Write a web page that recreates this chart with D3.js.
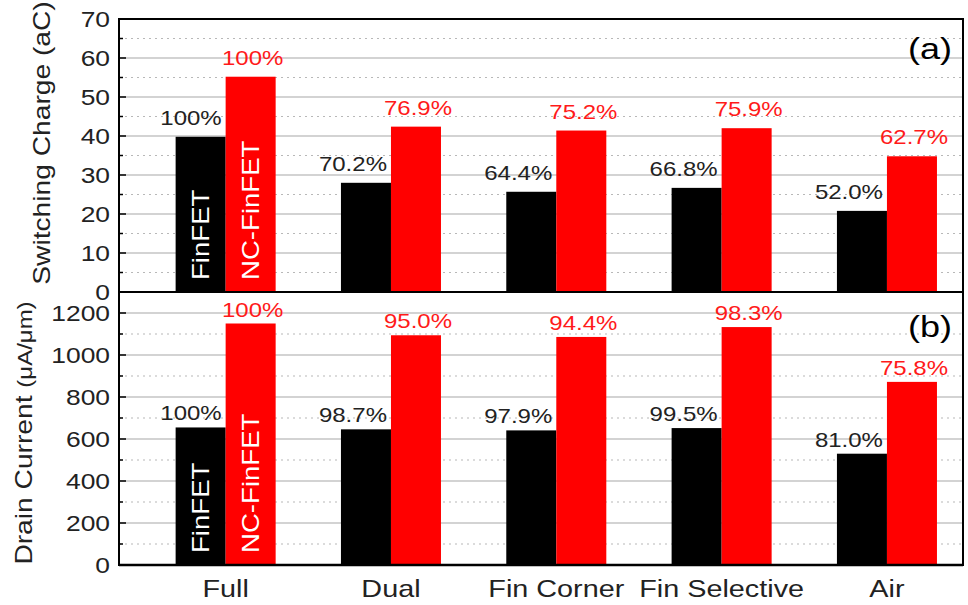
<!DOCTYPE html>
<html><head><meta charset="utf-8">
<script src="https://cdn.jsdelivr.net/npm/d3@7"></script>
<style>body{margin:0;background:#fff}svg{display:block}text{font-family:"Liberation Sans",Arial,sans-serif}</style>
</head><body><svg id="c" width="968" height="605"></svg>
<script>
const categories = ["Full","Dual","Fin Corner","Fin Selective","Air"];
const chargeFinFET = [39.8, 28.0, 25.7, 26.7, 20.8];
const chargeNC = [55.2, 42.4, 41.4, 42.0, 34.8];
const chargeFinFETLabels = ["100%","70.2%","64.4%","66.8%","52.0%"];
const chargeNCLabels = ["100%","76.9%","75.2%","75.9%","62.7%"];
const currentFinFET = [655, 646, 641, 652, 530];
const currentNC = [1150, 1094, 1086, 1133, 872];
const currentFinFETLabels = ["100%","98.7%","97.9%","99.5%","81.0%"];
const currentNCLabels = ["100%","95.0%","94.4%","98.3%","75.8%"];
const chargeTicks = [0,10,20,30,40,50,60,70];
const chargeMinor = [5,15,25,35,45,55,65];
const currentTicks = [0,200,400,600,800,1000,1200];
const currentMinor = [100,300,500,700,900,1100];

const svg = d3.select("#c");
const SX = 1.2;
const L = 119, R = 963;
const x = d3.scaleLinear().domain([-0.645, 4.46]).range([L, R]);
const bw = 0.3025;

function txt(g, px, py, rot, s, size, anchor, fill, baseline) {
  const t = g.append("text")
    .attr("transform", `translate(${px},${py}) rotate(${rot}) scale(${SX},1)`)
    .attr("font-size", size).attr("text-anchor", anchor).attr("fill", fill);
  if (baseline) t.attr("dominant-baseline", baseline);
  t.text(s);
  return t;
}

function panel(top, bottom, domainMax, ticks, minor, fin, nc, finL, ncL, tag, labGap, withLegend) {
  const y = d3.scaleLinear().domain([0, domainMax]).range([bottom, top]);
  const g = svg.append("g");
  // grid
  g.selectAll(".gmaj").data(ticks.filter(t => t > 0)).enter().append("line")
    .attr("x1", L).attr("x2", R).attr("y1", d => y(d)).attr("y2", d => y(d))
    .attr("stroke", "#c4c4c4").attr("stroke-width", 1.5);
  g.selectAll(".gmin").data(minor).enter().append("line")
    .attr("x1", L).attr("x2", R).attr("y1", d => y(d)).attr("y2", d => y(d))
    .attr("stroke", "#b8b8b8").attr("stroke-width", 1.2).attr("stroke-dasharray", "2,4");
  // bars
  g.selectAll(".bf").data(fin).enter().append("rect")
    .attr("x", (d, i) => x(i - bw)).attr("width", (d, i) => x(i) - x(i - bw))
    .attr("y", d => y(d)).attr("height", d => y(0) - y(d)).attr("fill", "#000");
  g.selectAll(".bn").data(nc).enter().append("rect")
    .attr("x", (d, i) => x(i)).attr("width", (d, i) => x(i + bw) - x(i))
    .attr("y", d => y(d)).attr("height", d => y(0) - y(d)).attr("fill", "#ff0000");
  // labels
  fin.forEach((d, i) => txt(g, x(i) - 4, y(d) - labGap, 0, finL[i], 20, "end", "#222"));
  nc.forEach((d, i) => txt(g, x(i + bw / 2) + 2, y(d) - labGap, 0, ncL[i], 20, "middle", "#ff1a1a"));
  // tick labels
  ticks.forEach(t => txt(g, L - 9, y(t), 0, String(t), 22, "end", "#222", "central"));
  // inward ticks
  ticks.forEach(t => g.append("line").attr("x1", L).attr("x2", L + 7).attr("y1", y(t)).attr("y2", y(t)).attr("stroke", "#000").attr("stroke-width", 1.5));
  minor.forEach(t => g.append("line").attr("x1", L).attr("x2", L + 4).attr("y1", y(t)).attr("y2", y(t)).attr("stroke", "#000").attr("stroke-width", 1.5));
  // frame
  g.append("rect").attr("x", L).attr("y", top).attr("width", R - L).attr("height", bottom - top)
    .attr("fill", "none").attr("stroke", "#000").attr("stroke-width", 2);
  // tag
  txt(g, 952, top + (tag === "(a)" ? 40 : 45), 0, tag, 30, "end", "#000");
  // in-bar legends
  if (withLegend) {
    txt(g, x(-bw / 2), y(0) - 12, -90, "FinFET", 23, "start", "#fff", "central");
    txt(g, x(bw / 2), y(0) - 12, -90, "NC-FinFET", 23, "start", "#fff", "central");
  }
  return y;
}

panel(19, 292, 70, chargeTicks, chargeMinor, chargeFinFET, chargeNC, chargeFinFETLabels, chargeNCLabels, "(a)", 12, true);
panel(292, 565, 1300, currentTicks, currentMinor, currentFinFET, currentNC, currentFinFETLabels, currentNCLabels, "(b)", 7, true);

// bottom axis line thicker
svg.append("line").attr("x1", L).attr("x2", R).attr("y1", 565).attr("y2", 565).attr("stroke", "#000").attr("stroke-width", 2.5);

// category labels
categories.forEach((c, i) => txt(svg, x(i), 597, 0, c, 24, "middle", "#222"));

// axis titles
txt(svg, 50, 143, -90, "Switching Charge (aC)", 23.5, "middle", "#222");
const t2 = svg.append("text")
  .attr("transform", `translate(32,433) rotate(-90) scale(${SX},1)`)
  .attr("text-anchor", "middle").attr("fill", "#222").attr("font-size", 23.5);
t2.append("tspan").text("Drain Current ");
t2.append("tspan").attr("font-size", 20).text("(μA/μm)");
</script></body></html>
